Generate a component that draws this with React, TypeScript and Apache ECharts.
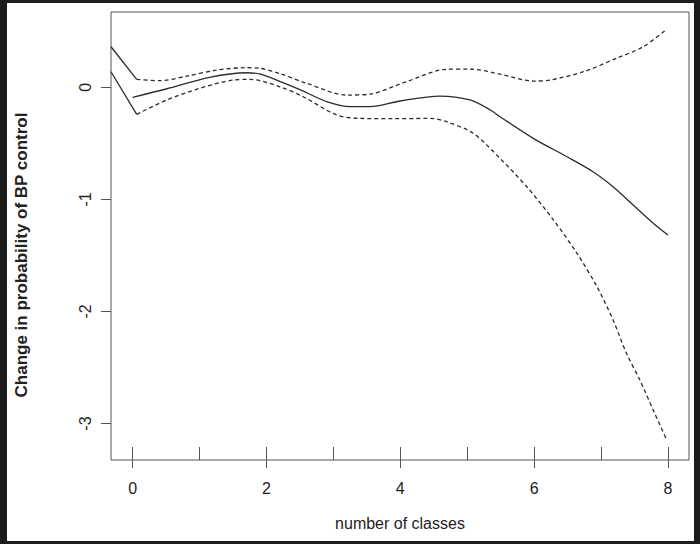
import React, { useEffect, useRef } from "react";
import * as echarts from "echarts";

// ---- data ----
const midX = [0, 0.5, 1.15, 1.7, 1.9, 2.15, 2.5, 2.9, 3.25, 3.55, 4.0, 4.59, 5.04, 5.34, 5.49, 6.0, 6.49, 6.88, 7.18, 7.48, 7.78, 8.0];
const midY = [-0.089, -0.015, 0.089, 0.13, 0.119, 0.065, -0.02, -0.128, -0.173, -0.173, -0.122, -0.078, -0.113, -0.2, -0.262, -0.46, -0.619, -0.753, -0.887, -1.05, -1.213, -1.318];

const upperX = [0.06, 0.41, 0.81, 1.26, 1.7, 1.9, 2.2, 2.6, 3.2, 3.55, 4.09, 4.69, 5.04, 5.49, 5.99, 6.24, 6.74, 7.23, 7.63, 7.98];
const upperY = [0.071, 0.059, 0.1, 0.154, 0.175, 0.17, 0.122, 0.036, -0.069, -0.06, 0.05, 0.161, 0.163, 0.118, 0.056, 0.065, 0.139, 0.259, 0.362, 0.517];

const lowerX = [0.06, 0.51, 1.0, 1.5, 1.75, 2.2, 2.55, 3.05, 3.4, 3.9, 4.44, 4.69, 5.09, 5.49, 5.89, 6.29, 6.64, 6.94, 7.18, 7.38, 7.58, 7.78, 7.97];
const lowerY = [-0.241, -0.113, -0.009, 0.065, 0.071, 0.005, -0.084, -0.247, -0.277, -0.28, -0.277, -0.307, -0.41, -0.634, -0.887, -1.184, -1.481, -1.779, -2.076, -2.373, -2.611, -2.879, -3.131];

const leftUpperX = [-0.324, 0.06];
const leftUpperY = [0.362, 0.071];
const leftLowerX = [-0.324, 0.06];
const leftLowerY = [0.139, -0.241];

const xTickValues = [0, 2, 4, 6, 8];
const rugValues = [0, 1, 2, 3, 4, 5, 6, 7, 8];
const yTickValues = [0, -1, -2, -3];

const xRange = [-0.324, 8.315];
const yRange = [-3.325, 0.672];

const xTitle = "number of classes";
const yTitle = "Change in probability of BP control";

const zip = (xs: number[], ys: number[]) => xs.map((x, i) => [x, ys[i]]);

const FONT = "'Liberation Sans', Arial, Helvetica, sans-serif";
const LINE = "#2b2b2b";
const AXIS = "#555555";
const FRAME = "#1c1c1c";

export default function App() {
  const ref = useRef<HTMLDivElement>(null);

  useEffect(() => {
    if (!ref.current) return;
    const chart = echarts.init(ref.current, undefined, { renderer: "svg" });
    const W = 700;
    const H = 544;
    chart.setOption({
      animation: false,
      backgroundColor: "#ffffff",
      grid: {
        left: 111,
        top: 12,
        right: 11,
        bottom: 84,
        show: true,
        borderColor: AXIS,
        borderWidth: 1,
        backgroundColor: "transparent",
      },
      xAxis: [
        {
          type: "value",
          min: xRange[0],
          max: xRange[1],
          position: "bottom",
          axisLine: { show: false, onZero: false },
          splitLine: { show: false },
          axisTick: {
            show: true,
            inside: false,
            length: 8,
            customValues: xTickValues,
            lineStyle: { color: AXIS, width: 1 },
          },
          axisLabel: {
            show: true,
            customValues: xTickValues,
            margin: 20,
            color: "#222",
            fontSize: 16,
            fontFamily: FONT,
          },
        },
        {
          type: "value",
          min: xRange[0],
          max: xRange[1],
          position: "bottom",
          axisLine: { show: false, onZero: false },
          splitLine: { show: false },
          axisLabel: { show: false },
          axisTick: {
            show: true,
            inside: true,
            length: 13,
            customValues: rugValues,
            lineStyle: { color: AXIS, width: 1 },
          },
        },
      ],
      yAxis: {
        type: "value",
        min: yRange[0],
        max: yRange[1],
        axisLine: { show: false, onZero: false },
        splitLine: { show: false },
        axisTick: {
          show: true,
          length: 10,
          customValues: yTickValues,
          lineStyle: { color: AXIS, width: 1 },
        },
        axisLabel: {
          show: true,
          customValues: yTickValues,
          rotate: 90,
          margin: 18,
          color: "#222",
          fontSize: 16,
          fontFamily: FONT,
        },
      },
      graphic: [
        { type: "rect", shape: { x: 0, y: 0, width: W, height: 3 }, style: { fill: FRAME }, silent: true },
        { type: "rect", shape: { x: 0, y: H - 3, width: W, height: 3 }, style: { fill: FRAME }, silent: true },
        { type: "rect", shape: { x: 0, y: 0, width: 7, height: H }, style: { fill: FRAME }, silent: true },
        { type: "rect", shape: { x: W - 6, y: 0, width: 6, height: H }, style: { fill: FRAME }, silent: true },
        {
          type: "text",
          x: 400,
          y: 523,
          style: {
            text: xTitle,
            fill: "#222",
            font: `16px ${FONT}`,
            textAlign: "center",
            textVerticalAlign: "middle",
          },
        },
        {
          type: "text",
          x: 21,
          y: 255,
          rotation: Math.PI / 2,
          style: {
            text: yTitle,
            fill: "#222",
            font: `bold 17px ${FONT}`,
            textAlign: "center",
            textVerticalAlign: "middle",
          },
        },
      ],
      series: [
        {
          name: "estimate",
          type: "line",
          data: zip(midX, midY),
          showSymbol: false,
          smooth: 0.3,
          lineStyle: { color: LINE, width: 1.3 },
        },
        {
          name: "upper",
          type: "line",
          data: zip(upperX, upperY),
          showSymbol: false,
          smooth: 0.3,
          lineStyle: { color: LINE, width: 1.3, type: [4, 3] },
        },
        {
          name: "lower",
          type: "line",
          data: zip(lowerX, lowerY),
          showSymbol: false,
          smooth: 0.3,
          lineStyle: { color: LINE, width: 1.3, type: [4, 3] },
        },
        {
          name: "leftUpper",
          type: "line",
          data: zip(leftUpperX, leftUpperY),
          showSymbol: false,
          lineStyle: { color: LINE, width: 1.3 },
        },
        {
          name: "leftLower",
          type: "line",
          data: zip(leftLowerX, leftLowerY),
          showSymbol: false,
          lineStyle: { color: LINE, width: 1.3 },
        },
      ],
    });
    return () => chart.dispose();
  }, []);

  return (
    <div
      ref={ref}
      style={{ position: "fixed", left: 0, top: 0, width: 700, height: 544 }}
    />
  );
}
